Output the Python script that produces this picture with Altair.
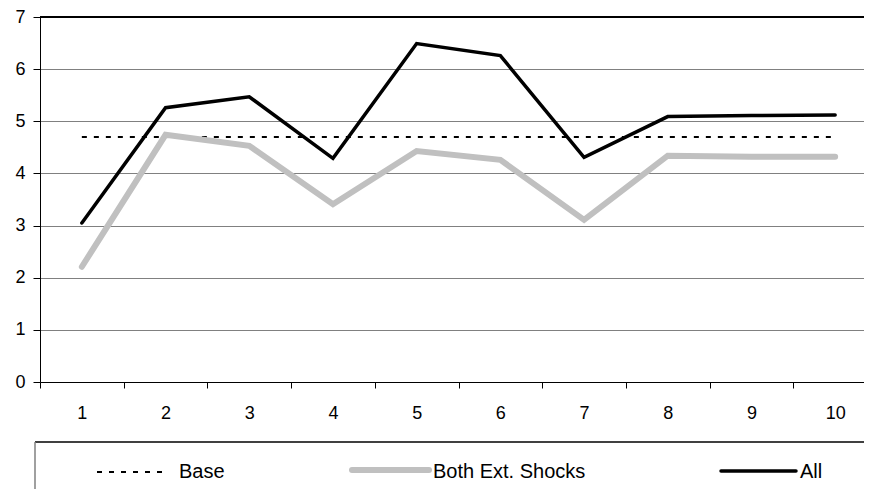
import altair as alt
import pandas as pd

periods = [1, 2, 3, 4, 5, 6, 7, 8, 9, 10]
base = [4.7, 4.7, 4.7, 4.7, 4.7, 4.7, 4.7, 4.7, 4.7, 4.7]
both_shocks = [2.21, 4.74, 4.53, 3.41, 4.43, 4.26, 3.11, 4.34, 4.32, 4.32]
all_shocks = [3.05, 5.26, 5.47, 4.29, 6.49, 6.26, 4.31, 5.09, 5.11, 5.12]
y_ticks = [0, 1, 2, 3, 4, 5, 6, 7]

df = pd.DataFrame({"t": periods, "Base": base, "Both": both_shocks, "All": all_shocks})

FONT = "Liberation Sans"
W, H = 824, 365
XRANGE = 837

xenc = alt.X(
    "t:O",
    bandPosition=0.5,
    scale=alt.Scale(type="band", paddingInner=0, paddingOuter=0, range=[0, XRANGE]),
    axis=alt.Axis(
        title=None, tickBand="extent", labelAngle=0, tickSize=6, tickColor="black",
        domainColor="black", labelFont=FONT, labelFontSize=18, labelColor="black",
        labelPadding=16, grid=False,
    ),
)
yscale = alt.Scale(domain=[0, 7], nice=False, zero=True)
yaxis = alt.Axis(
    title=None, values=y_ticks, tickSize=7, tickColor="black", domainColor="black",
    labelFont=FONT, labelFontSize=18, labelColor="black", labelPadding=8,
    grid=True, gridColor="#808080", gridWidth=1,
)

base_line = alt.Chart(df).mark_line(color="black", strokeWidth=2, strokeDash=[5, 7]).encode(
    x=xenc, y=alt.Y("Base:Q", scale=yscale, axis=yaxis)
)
both_line = alt.Chart(df).mark_line(color="#c0c0c0", strokeWidth=6, strokeCap="round", strokeJoin="miter").encode(
    x=xenc, y=alt.Y("Both:Q", scale=yscale, axis=yaxis)
)
all_line = alt.Chart(df).mark_line(color="black", strokeWidth=3.5, strokeCap="round", strokeJoin="miter").encode(
    x=xenc, y=alt.Y("All:Q", scale=yscale, axis=yaxis)
)

leg_df = pd.DataFrame({"k": [0]})
top_border = alt.Chart(leg_df).mark_rule(color="black", strokeWidth=2).encode(
    x=alt.value(0), x2=alt.value(900), y=alt.value(0)
)
box_top = alt.Chart(leg_df).mark_rule(color="black", strokeWidth=1.5).encode(
    x=alt.value(-5), x2=alt.value(900), y=alt.value(425)
)
box_left = alt.Chart(leg_df).mark_rule(color="#808080", strokeWidth=1.5).encode(
    x=alt.value(-5), y=alt.value(425), y2=alt.value(500)
)
ly = 455
leg_base = alt.Chart(leg_df).mark_rule(color="black", strokeWidth=2, strokeDash=[5, 7]).encode(
    x=alt.value(57), x2=alt.value(126), y=alt.value(ly)
)
leg_both = alt.Chart(leg_df).mark_rule(color="#c0c0c0", strokeWidth=6, strokeCap="round").encode(
    x=alt.value(312), x2=alt.value(389), y=alt.value(ly - 2)
)
leg_all = alt.Chart(leg_df).mark_rule(color="black", strokeWidth=3.5, strokeCap="round").encode(
    x=alt.value(681), x2=alt.value(756), y=alt.value(ly - 1)
)
def leg_text(label, x):
    return alt.Chart(leg_df).mark_text(
        text=label, align="left", baseline="middle", font=FONT, fontSize=20, color="black"
    ).encode(x=alt.value(x), y=alt.value(ly))

chart = alt.layer(
    base_line, both_line, all_line, top_border,
    box_top, box_left, leg_base, leg_both, leg_all,
    leg_text("Base", 139), leg_text("Both Ext. Shocks", 393), leg_text("All", 760),
).properties(
    width=W, height=H,
    autosize=alt.AutoSizeParams(type="none"),
    padding={"left": 32, "top": 9, "right": 0, "bottom": 107},
    background="white",
).configure_view(strokeWidth=0)

chart.save("out.html", embed_options={"renderer": "svg", "actions": False})
